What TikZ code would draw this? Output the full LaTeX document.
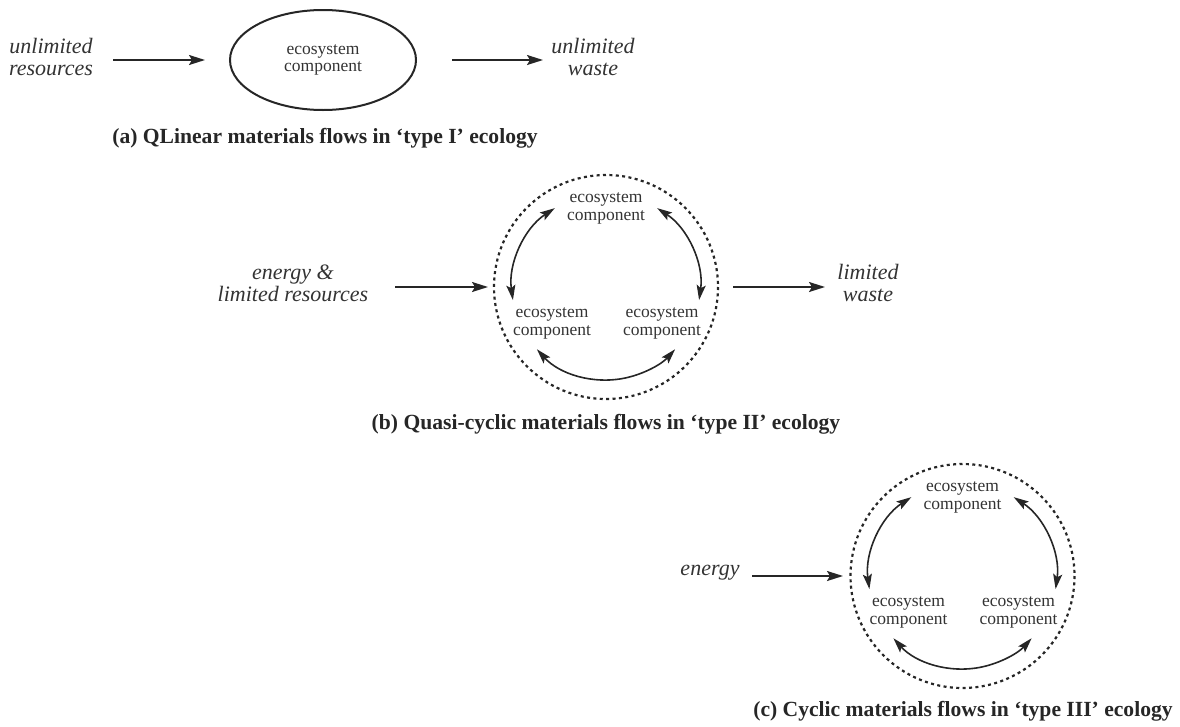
\documentclass[tikz,border=0pt]{standalone}
\usepackage{fontspec}
\setmainfont{Liberation Serif}
\usetikzlibrary{arrows.meta,calc,shapes.geometric}
\begin{document}
\begin{tikzpicture}[x=1pt,y=-1pt,
  lbl/.style={font=\fontsize{22}{22}\selectfont\itshape, align=center, inner sep=0pt, text=black!80},
  comp/.style={font=\fontsize{17.5}{17.5}\selectfont, align=center, inner sep=0pt, text=black!80},
  captext/.style={font=\fontsize{21.6}{24}\selectfont\bfseries, inner sep=0pt, text=black!85},
  flow/.style={line width=1.9pt, -{Stealth[length=16pt,width=10pt,inset=3pt]}, draw=black!85},
  cyc/.style={line width=1.6pt, {Stealth[length=15pt,width=9pt,inset=3pt]}-{Stealth[length=15pt,width=9pt,inset=3pt]}, draw=black!85},
  dotc/.style={line width=2.2pt, dash pattern=on 3pt off 3.4pt, draw=black!85},
]
\useasboundingbox (0,0) rectangle (1180,726);

% ---------- (a)
\node[lbl] (resA) at (51,56.5) {unlimited\\resources};
\node[comp, draw=black!85, line width=2pt, ellipse, minimum width=186pt, minimum height=100pt] (ell) at (323,60) {ecosystem\\component};
\node[lbl] (wasteA) at (593,56.5) {unlimited\\waste};
\coordinate (a1s) at (113,60); \coordinate (a1e) at (205,60);
\coordinate (a2s) at (452,60); \coordinate (a2e) at (543,60);
\draw[flow] (a1s) -- (a1e);
\draw[flow] (a2s) -- (a2e);
\node[captext] (capA) at (325,138) {(a) QLinear materials flows in ‘type I’ ecology};

% ---------- (b)
\coordinate (cb) at (606,287);
\draw[dotc] (cb) circle[radius=112];
\node[comp] (bT) at ($(cb)+(0,-78.5)$) {ecosystem\\component};
\node[comp] (bL) at ($(cb)+(-54,36.5)$) {ecosystem\\component};
\node[comp] (bR) at ($(cb)+(56,36.5)$) {ecosystem\\component};
\draw[cyc] ($(cb)+(-123:94)$) arc[start angle=-123,end angle=-188,radius=94];
\draw[cyc] ($(cb)+(-57:94)$) arc[start angle=-57,end angle=8,radius=94];
\draw[cyc] ($(cb)+(138:93)$) arc[start angle=138,end angle=42,radius=93];
\node[lbl] (resB) at (293,283) {energy \&\\limited resources};
\node[lbl] (wasteB) at (868,283) {limited\\waste};
\coordinate (b1s) at (395,287); \coordinate (b1e) at (488,287);
\coordinate (b2s) at (733,287); \coordinate (b2e) at (825,287);
\draw[flow] (b1s) -- (b1e);
\draw[flow] (b2s) -- (b2e);
\node[captext] (capB) at (606,424) {(b) Quasi-cyclic materials flows in ‘type II’ ecology};

% ---------- (c)
\coordinate (cc) at (962.5,576);
\draw[dotc] (cc) circle[radius=112];
\node[comp] (cT) at ($(cc)+(0,-78.5)$) {ecosystem\\component};
\node[comp] (cL) at ($(cc)+(-54,36.5)$) {ecosystem\\component};
\node[comp] (cR) at ($(cc)+(56,36.5)$) {ecosystem\\component};
\draw[cyc] ($(cc)+(-123:94)$) arc[start angle=-123,end angle=-188,radius=94];
\draw[cyc] ($(cc)+(-57:94)$) arc[start angle=-57,end angle=8,radius=94];
\draw[cyc] ($(cc)+(138:93)$) arc[start angle=138,end angle=42,radius=93];
\node[lbl] (enC) at (710,573) {energy};
\coordinate (c1s) at (752,576); \coordinate (c1e) at (843,576);
\draw[flow] (c1s) -- (c1e);
\node[captext] (capC) at (963,711) {(c) Cyclic materials flows in ‘type III’ ecology};
\end{tikzpicture}
\end{document}
